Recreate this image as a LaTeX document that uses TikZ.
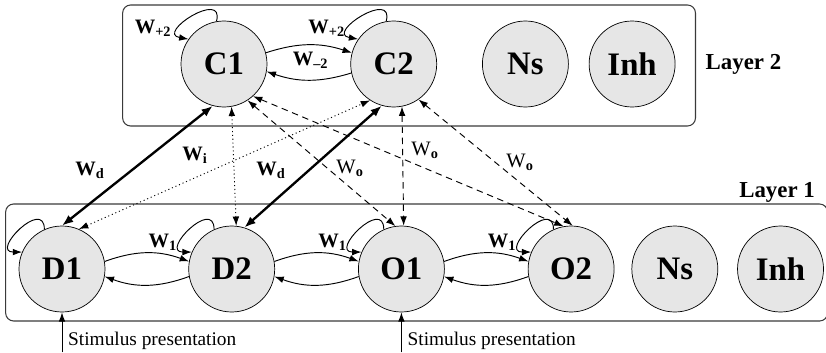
\documentclass[tikz,border=0pt]{standalone}
\usepackage{fontspec}
\setmainfont{Liberation Serif}
\usepackage{xcolor}
\usepackage{tikz}
\usetikzlibrary{calc,positioning,arrows.meta}
\definecolor{NeuronFill}{HTML}{E6E6E6}
\definecolor{LayerEdge}{HTML}{3A3A3A}
\newcommand{\wbold}[1]{\textbf{W}\textsubscript{\textbf{#1}}}
\newcommand{\wthin}[1]{W\textsubscript{\textbf{#1}}}

\begin{document}
\begin{tikzpicture}[
        node distance=2.49cm,
        neuron/.style={circle, draw, fill=NeuronFill, line width=0.6pt,
            minimum size=2.58cm, inner sep=0pt,
            font=\fontsize{28}{28}\selectfont\bfseries},
        layerbox/.style={draw=LayerEdge, line width=0.9pt, rounded corners=0.24cm},
        layerlab/.style={inner sep=0pt, font=\fontsize{19.5}{20}\selectfont\bfseries},
        wlab/.style={inner sep=0pt, font=\fontsize{17.5}{18}\selectfont},
        stimlab/.style={inner sep=0pt, font=\fontsize{16.5}{17}\selectfont},
        link/.style={-{Latex[length=0.28cm,width=0.2cm]}, line width=0.8pt},
        twolink/.style={{Latex[length=0.28cm,width=0.2cm]}-{Latex[length=0.28cm,width=0.2cm]}, line width=0.8pt},
        heavylink/.style={{Latex[length=0.34cm,width=0.26cm]}-{Latex[length=0.34cm,width=0.26cm]}, line width=2pt},
        dotlink/.style={twolink, dash pattern=on 0.9pt off 2.4pt},
        dashlink/.style={twolink, dash pattern=on 5.5pt off 4pt}
    ]
        \useasboundingbox (0,0) rectangle (24.78,10.56);

        \node[neuron] (D1) at (1.86,2.49) {D1};
        \node[neuron, right=of D1] (D2) {D2};
        \node[neuron, right=of D2] (O1) {O1};
        \node[neuron, right=of O1] (O2) {O2};
        \node[neuron, right=0.51cm of O2] (Ns1) {Ns};
        \node[neuron, right=0.57cm of Ns1] (Inh1) {Inh};

        \node[neuron] (C1) at (6.72,8.64) {C1};
        \node[neuron, right=of C1] (C2) {C2};
        \node[neuron, right=1.35cm of C2] (Ns2) {Ns};
        \node[neuron, right=0.6cm of Ns2] (Inh2) {Inh};

        \draw[layerbox] ($(C1.west)+(-1.74,1.77)$) rectangle ($(Inh2.east)+(0.6,-1.86)$);
        \draw[layerbox] ($(D1.west)+(-0.39,1.95)$) rectangle ($(Inh1.east)+(0.11,-1.56)$);
        \node[layerlab, anchor=west] (L2) at ($(Inh2.east)+(0.9,0)$) {Layer 2};
        \node[layerlab, anchor=base east] (L1) at (24.45,4.65) {Layer 1};

        \draw[link] (C1.100) to[out=75, in=170, looseness=2.6] (C1.145);
        \draw[link] (C2.100) to[out=75, in=170, looseness=2.6] (C2.145);
        \draw[link] (C1.15) to[bend left=18] (C2.165);
        \draw[link] (C2.192) to[bend left=18] (C1.350);
        \node[wlab] (wc1) at ($(C1)+(-2.13,1.08)$) {\wbold{+2}};
        \node[wlab] (wc2) at ($(C2)+(-2.01,1.08)$) {\wbold{+2}};
        \node[wlab] (wcc) at ($(C1)!0.5!(C2)+(0.05,0.12)$) {\wbold{--2}};

        \draw[link] (D1.114) to[out=90, in=180, looseness=2.6] (D1.157);
        \foreach \n in {D2,O1,O2} {
            \draw[link] (\n.114) to[out=90, in=180, looseness=2.6] (\n.157);
            \node[wlab] (w\n) at ($(\n)+(-2.07,0.81)$) {\wbold{1}};
        }
        \draw[link] (D1.10) to[bend left=20] (D2.170);
        \draw[link] (D2.190) to[bend left=20] (D1.350);
        \draw[link] (D2.10) to[bend left=20] (O1.170);
        \draw[link] (O1.190) to[bend left=20] (D2.350);
        \draw[link] (O1.10) to[bend left=20] (O2.170);
        \draw[link] (O2.190) to[bend left=20] (O1.350);

        \draw[heavylink] (D1.north) -- (C1.255);
        \draw[heavylink] (D2.73) -- (C2.254);
        \draw[dotlink] (D1.67) -- (C2.237);
        \draw[dotlink] (C1.280) -- (D2.84);
        \draw[dashlink] (C1.303) -- (O1.98);
        \draw[dashlink] (C1.312) -- (O2.100);
        \draw[dashlink] (C2.281) -- (O1.87);
        \draw[dashlink] (C2.305) -- (O2.88);

        \node[wlab] (wd1) at (2.7,5.46) {\wbold{d}};
        \node[wlab] (wi) at (5.85,5.91) {\wbold{i}};
        \node[wlab] (wd2) at (8.13,5.46) {\wbold{d}};
        \node[wlab] (wo1) at (10.5,5.52) {\wthin{o}};
        \node[wlab] (wo2) at (12.75,6.06) {\wthin{o}};
        \node[wlab] (wo3) at (15.6,5.7) {\wthin{o}};

        \coordinate (s1) at ($(D1.south)+(0,-1.2)$);
        \coordinate (s2) at ($(O1.south)+(0,-1.2)$);
        \draw[link] (s1) -- (D1.south);
        \draw[link] (s2) -- (O1.south);
        \node[stimlab, anchor=west] (st1) at ($(s1)+(0.18,0.36)$) {Stimulus presentation};
        \node[stimlab, anchor=west] (st2) at ($(s2)+(0.18,0.36)$) {Stimulus presentation};
    \end{tikzpicture}
\end{document}
